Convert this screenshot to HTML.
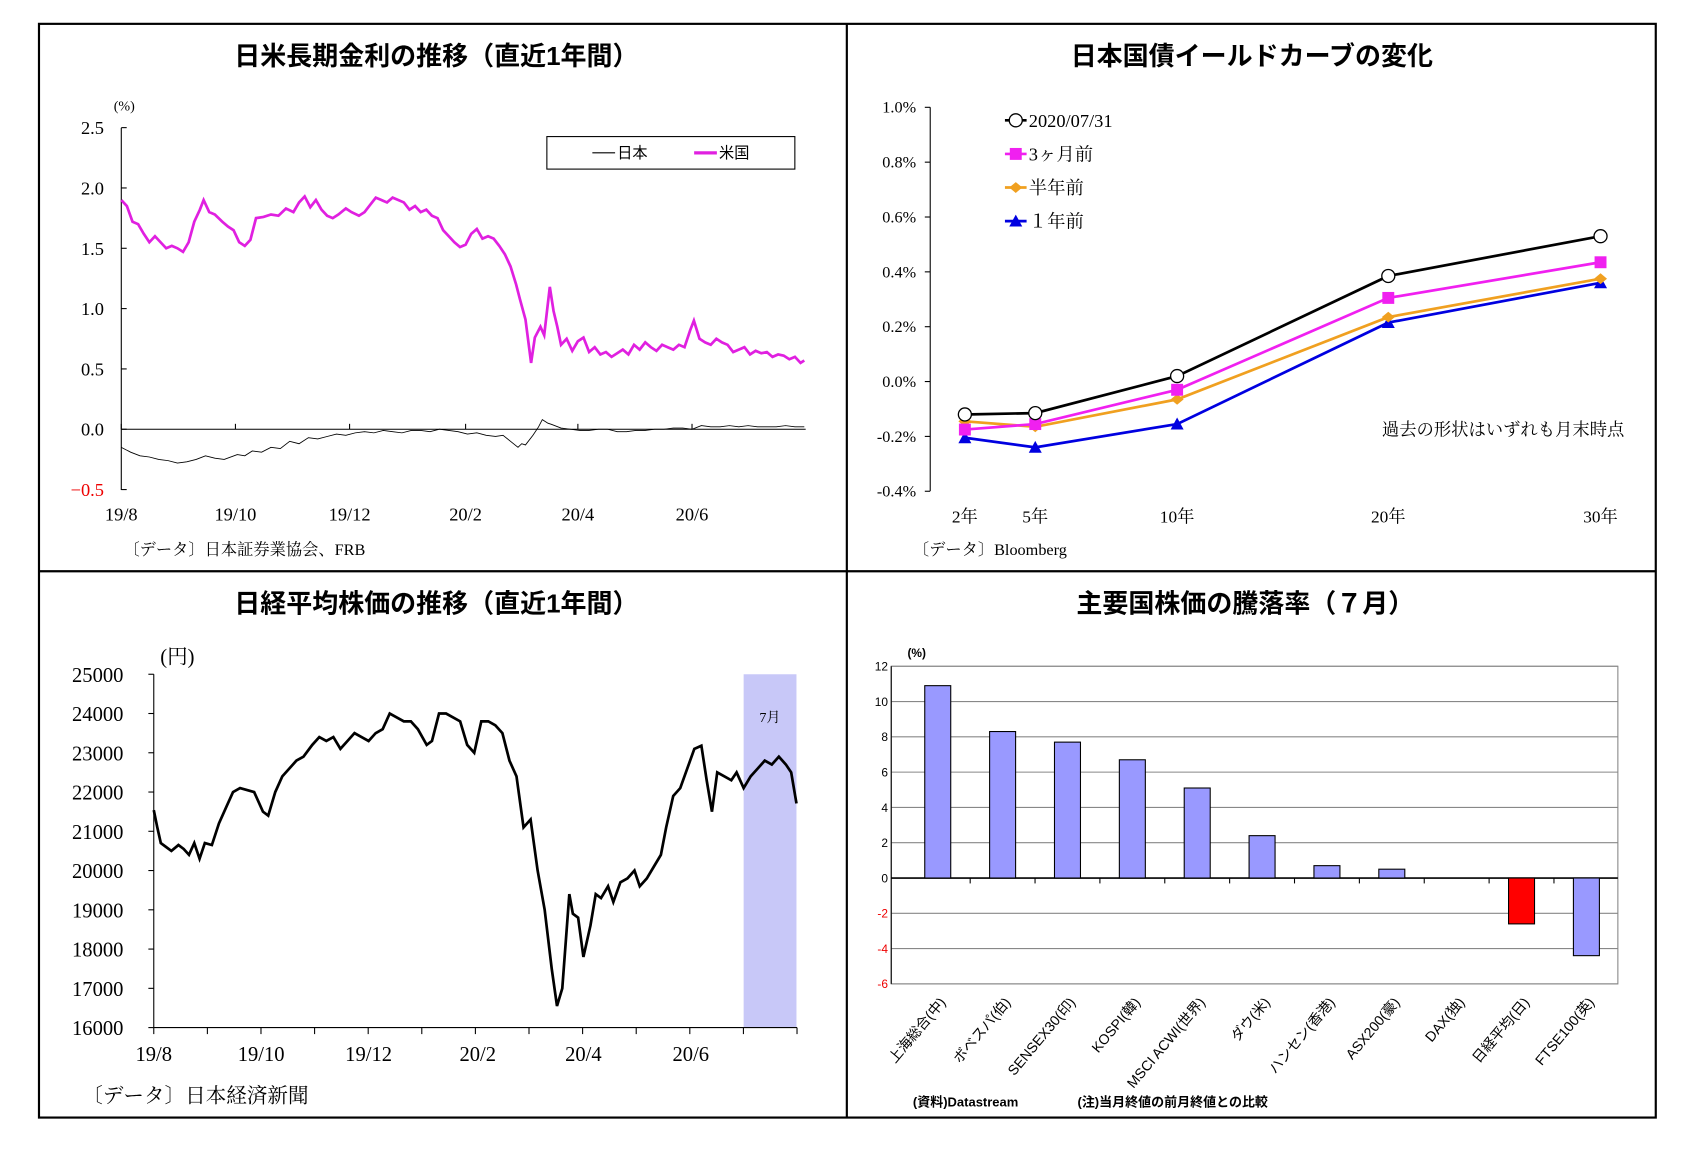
<!DOCTYPE html>
<html><head><meta charset="utf-8">
<style>
html,body{margin:0;padding:0;background:#fff;overflow:hidden}
svg{display:block}
text{font-family:"Liberation Serif","Noto Serif CJK SC",serif}
.t{font-family:"Liberation Sans","Noto Sans CJK JP",sans-serif;font-weight:bold;font-size:24px}
.s{font-family:"Liberation Sans","Noto Sans CJK JP",sans-serif}
</style></head>
<body>
<svg id="c" width="1698" height="1149" viewBox="0 0 1568 1060" preserveAspectRatio="none" xmlns="http://www.w3.org/2000/svg">
<rect x="36" y="22" width="1493" height="1009" fill="none" stroke="#000" stroke-width="2"/>
<line x1="782" y1="22" x2="782" y2="1031" stroke="#000" stroke-width="2"/>
<line x1="36" y1="527" x2="1529" y2="527" stroke="#000" stroke-width="2"/>
<g id="p1"></g>
<g id="p2"></g>
<g id="p3"></g>
<g id="p4"></g>
</svg>
<script>
// ---- Panel 1 data ----
const rateTicks=[2.5,2.0,1.5,1.0,0.5,0.0,-0.5];
const rateTickLabels=["2.5","2.0","1.5","1.0","0.5","0.0","\u22120.5"];
const monthLabels=["19/8","19/10","19/12","20/2","20/4","20/6"];
const monthDays=[0,61,122,184,244,305];
const usDays=[0,3,6,9,12,15,18,21,24,27,30,33,36,39,42,44,47,50,54,57,60,63,66,69,72,76,80,84,88,92,95,98,101,104,107,110,113,116,120,123,127,130,133,136,139,142,145,148,151,154,157,160,163,166,169,172,175,178,181,184,187,190,193,196,199,202,205,208,211,213,216,219,221,224,226,229,231,233,235,238,241,244,247,250,253,256,259,262,265,268,271,274,277,280,283,286,289,292,295,298,301,304,306,309,312,315,318,321,324,327,330,333,336,339,342,345,348,351,354,357,360,363,365];
const usVals=[1.90,1.85,1.72,1.70,1.62,1.55,1.60,1.55,1.50,1.52,1.50,1.47,1.55,1.72,1.82,1.90,1.80,1.78,1.72,1.68,1.65,1.55,1.52,1.57,1.75,1.76,1.78,1.77,1.83,1.80,1.88,1.93,1.84,1.90,1.82,1.77,1.75,1.78,1.83,1.80,1.77,1.80,1.86,1.92,1.90,1.88,1.92,1.90,1.88,1.82,1.85,1.80,1.82,1.77,1.75,1.65,1.60,1.55,1.51,1.53,1.62,1.66,1.58,1.60,1.58,1.52,1.45,1.35,1.20,1.08,0.91,0.55,0.76,0.85,0.78,1.18,0.98,0.85,0.70,0.75,0.65,0.73,0.76,0.64,0.68,0.62,0.64,0.60,0.63,0.66,0.62,0.70,0.66,0.72,0.68,0.65,0.70,0.68,0.66,0.70,0.68,0.82,0.90,0.75,0.72,0.70,0.75,0.72,0.70,0.64,0.66,0.68,0.62,0.65,0.63,0.64,0.60,0.62,0.61,0.58,0.60,0.55,0.57];
const jpDays=[0,5,10,15,20,25,30,35,40,45,50,55,62,66,70,75,80,85,90,95,100,105,110,115,120,125,130,135,140,145,150,155,160,165,170,175,180,185,190,195,200,204,208,212,214,216,220,223,225,228,230,235,240,245,250,255,260,265,270,275,280,285,290,295,300,305,310,315,320,325,330,335,340,345,350,355,360,365];
const jpVals=[-0.15,-0.19,-0.22,-0.23,-0.25,-0.26,-0.28,-0.27,-0.25,-0.22,-0.24,-0.25,-0.21,-0.22,-0.18,-0.19,-0.15,-0.16,-0.10,-0.12,-0.07,-0.08,-0.06,-0.04,-0.05,-0.03,-0.02,-0.03,-0.01,-0.02,-0.03,-0.01,-0.01,-0.02,0.00,-0.01,-0.02,-0.04,-0.03,-0.05,-0.06,-0.05,-0.10,-0.15,-0.12,-0.13,-0.05,0.02,0.08,0.05,0.04,0.01,0.00,-0.01,-0.01,0.00,0.00,-0.02,-0.02,-0.01,-0.01,0.00,0.00,0.01,0.01,0.00,0.03,0.02,0.02,0.03,0.02,0.03,0.02,0.02,0.02,0.03,0.02,0.02];
// ---- Panel 2 data ----
const maturities=["2年","5年","10年","20年","30年"];
const curveNow=[-0.12,-0.115,0.02,0.385,0.53];
const curve3m=[-0.175,-0.155,-0.03,0.305,0.435];
const curve6m=[-0.145,-0.165,-0.065,0.235,0.375];
const curve1y=[-0.205,-0.24,-0.155,0.215,0.36];
const curveTicks=[1.0,0.8,0.6,0.4,0.2,0.0,-0.2,-0.4];
const curveTickLabels=["1.0%","0.8%","0.6%","0.4%","0.2%","0.0%","-0.2%","-0.4%"];
const curveLegend=["2020/07/31","3ヶ月前","半年前","１年前"];
// ---- Panel 3 data ----
const nkTicks=[25000,24000,23000,22000,21000,20000,19000,18000,17000,16000];
const nkDays=[0,2,4,7,10,14,17,20,23,26,29,33,37,41,45,49,53,57,62,65,69,73,77,81,85,90,94,98,102,106,110,114,118,122,126,130,134,138,142,146,150,155,158,162,166,170,174,178,182,186,190,194,198,202,206,210,214,218,222,226,229,232,236,238,241,244,248,251,254,258,261,265,269,273,276,280,284,288,291,295,299,303,307,311,314,317,320,324,328,331,335,339,343,347,351,355,359,362,365];
const nkVals=[21540,21100,20700,20600,20500,20650,20550,20400,20700,20300,20700,20650,21200,21600,22000,22100,22050,22000,21500,21400,22000,22400,22600,22800,22900,23200,23400,23300,23400,23100,23300,23500,23400,23300,23500,23600,24000,23900,23800,23800,23600,23200,23300,24000,24000,23900,23800,23200,23000,23800,23800,23700,23500,22800,22400,21100,21300,20000,19000,17500,16550,17000,19400,18900,18800,17800,18600,19400,19300,19600,19200,19700,19800,20000,19600,19800,20100,20400,21100,21900,22100,22600,23100,23180,22300,21500,22500,22400,22300,22500,22100,22400,22600,22800,22700,22900,22700,22500,21710];
// ---- Panel 4 data ----
const markets=["上海総合(中)","ボベスパ(伯)","SENSEX30(印)","KOSPI(韓)","MSCI ACWI(世界)","ダウ(米)","ハンセン(香港)","ASX200(豪)","DAX(独)","日経平均(日)","FTSE100(英)"];
const returns=[10.9,8.3,7.7,6.7,5.1,2.4,0.7,0.5,0.0,-2.6,-4.4];
const retTicks=[12,10,8,6,4,2,0,-2,-4,-6];

const NS="http://www.w3.org/2000/svg";
function mk(parent,tag,attrs,txt){const e=document.createElementNS(NS,tag);for(const k in attrs)e.setAttribute(k,attrs[k]);if(txt!==undefined)e.textContent=txt;parent.appendChild(e);return e;}

// ===== Panel 1 =====
(function(){
const g=document.getElementById('p1');
const X=d=>112+d*1.728, Y=v=>396-v*111.3;
let e;
e=mk(g,'text',{x:403,y:60,'text-anchor':'middle',class:'t'},'日米長期金利の推移（直近1年間）');


e=mk(g,'text',{x:105,y:102,'font-size':13},'(%)');


mk(g,'line',{x1:112,y1:118,x2:112,y2:452,stroke:'#000'});
mk(g,'line',{x1:112,y1:396,x2:744,y2:396,stroke:'#000'});
rateTicks.forEach((v,i)=>{
 mk(g,'line',{x1:112,y1:Y(v),x2:117,y2:Y(v),stroke:'#000'});
 const t=mk(g,'text',{x:96,y:Y(v)+6,'text-anchor':'end','font-size':17,fill:v<0?'#e00':'#000'},rateTickLabels[i]);
 
 
});
monthLabels.forEach((m,i)=>{
 mk(g,'line',{x1:X(monthDays[i]),y1:396,x2:X(monthDays[i]),y2:391,stroke:'#000'});
 const t=mk(g,'text',{x:X(monthDays[i]),y:480,'text-anchor':'middle','font-size':17},m);
 
 
});
e=mk(g,'polyline',{points:jpDays.map((d,i)=>X(d)+','+Y(jpVals[i])).join(' '),fill:'none',stroke:'#000','stroke-width':0.8});


e=mk(g,'polyline',{points:usDays.map((d,i)=>X(d)+','+Y(usVals[i])).join(' '),fill:'none',stroke:'#e020e0','stroke-width':2.5});


const lg=mk(g,'g',{});


mk(lg,'rect',{x:505,y:126,width:229,height:30,fill:'#fff',stroke:'#000'});
mk(lg,'line',{x1:547,y1:141,x2:568,y2:141,stroke:'#000'});
mk(lg,'text',{x:570,y:146,'font-size':14,class:'s'},'日本');
mk(lg,'line',{x1:641,y1:141,x2:662,y2:141,stroke:'#e020e0','stroke-width':3});
mk(lg,'text',{x:664,y:146,'font-size':14,class:'s'},'米国');
e=mk(g,'text',{x:114,y:512,'font-size':15},'〔データ〕日本証券業協会、FRB');


})();

// ===== Panel 2 =====
(function(){
const g=document.getElementById('p2');
const xPos=[891,956,1087,1282,1478];
const Y=v=>352-v*253;
let e;
e=mk(g,'text',{x:1156,y:60,'text-anchor':'middle',class:'t'},'日本国債イールドカーブの変化');


mk(g,'line',{x1:859,y1:99,x2:859,y2:453,stroke:'#000'});
curveTicks.forEach((v,i)=>{
 mk(g,'line',{x1:854,y1:Y(v),x2:859,y2:Y(v),stroke:'#000'});
 const t=mk(g,'text',{x:846,y:Y(v)+5,'text-anchor':'end','font-size':15},curveTickLabels[i]);
 
 
});
maturities.forEach((m,i)=>{
 const t=mk(g,'text',{x:xPos[i],y:482,'text-anchor':'middle','font-size':16},m);
 
 
});
const series=[[curve1y,'#0000e0','tri'],[curve6m,'#f0a020','dia'],[curve3m,'#f020f0','sq'],[curveNow,'#000','circ']];
function marker(p,x,y,type,col){
 if(type=='circ')return mk(p,'circle',{cx:x,cy:y,r:6,fill:'#fff',stroke:'#000','stroke-width':1.2});
 if(type=='sq')return mk(p,'rect',{x:x-5.5,y:y-5.5,width:11,height:11,fill:col});
 if(type=='dia')return mk(p,'polygon',{points:`${x},${y-5} ${x+6},${y} ${x},${y+5} ${x-6},${y}`,fill:col});
 return mk(p,'polygon',{points:`${x},${y-6} ${x+6},${y+5} ${x-6},${y+5}`,fill:col});
}
series.forEach(([vals,col,type])=>{
 const sg=mk(g,'g',{});
 
 
 mk(sg,'polyline',{points:vals.map((v,i)=>xPos[i]+','+Y(v)).join(' '),fill:'none',stroke:col,'stroke-width':2.5});
 vals.forEach((v,i)=>{const m=marker(sg,xPos[i],Y(v),type,col);
  
  });
});
const leg=[['#000','circ'],['#f020f0','sq'],['#f0a020','dia'],['#0000e0','tri']];
curveLegend.forEach((l,i)=>{
 const y=111+i*31;
 const lgi=mk(g,'g',{});
 
 
 mk(lgi,'line',{x1:928,y1:y,x2:948,y2:y,stroke:leg[i][0],'stroke-width':2.5});
 marker(lgi,938,y,leg[i][1],leg[i][0]);
 mk(lgi,'text',{x:950,y:y+6,'font-size':17},l);
});
e=mk(g,'text',{x:1500,y:402,'text-anchor':'end','font-size':16},'過去の形状はいずれも月末時点');


e=mk(g,'text',{x:843,y:512,'font-size':15},'〔データ〕Bloomberg');


})();

// ===== Panel 3 =====
(function(){
const g=document.getElementById('p3');
const X=d=>142+d*1.626, Y=v=>948-(v-16000)*0.03622;
let e;
e=mk(g,'text',{x:403,y:565,'text-anchor':'middle',class:'t'},'日経平均株価の推移（直近1年間）');


e=mk(g,'rect',{x:X(335),y:Y(25000),width:X(365)-X(335),height:Y(16000)-Y(25000),fill:'#c8c8f8'});


e=mk(g,'text',{x:711,y:666,'text-anchor':'middle','font-size':13},'7月');


e=mk(g,'text',{x:148,y:612,'font-size':19},'(円)');


mk(g,'line',{x1:142,y1:622,x2:142,y2:948,stroke:'#000'});
mk(g,'line',{x1:142,y1:948,x2:736,y2:948,stroke:'#000'});
nkTicks.forEach(v=>{
 mk(g,'line',{x1:137,y1:Y(v),x2:142,y2:Y(v),stroke:'#000'});
 const t=mk(g,'text',{x:114,y:Y(v)+7,'text-anchor':'end','font-size':19},String(v));
 
 
});
for(let d=0;d<=12;d++){const x=142+d*(736-142)/12;mk(g,'line',{x1:x,y1:948,x2:x,y2:954,stroke:'#000'});}
monthLabels.forEach((m,i)=>{
 const t=mk(g,'text',{x:X(monthDays[i]),y:979,'text-anchor':'middle','font-size':19},m);
 
 
});
e=mk(g,'polyline',{points:nkDays.map((d,i)=>X(d)+','+Y(nkVals[i])).join(' '),fill:'none',stroke:'#000','stroke-width':2.5});


e=mk(g,'text',{x:76,y:1017,'font-size':19},'〔データ〕日本経済新聞');


})();

// ===== Panel 4 =====
(function(){
const g=document.getElementById('p4');
const x0=823,x1=1494,bandStart=836,bw=59.9;
const Y=v=>810-v*16.28;
let e;
e=mk(g,'text',{x:1150,y:565,'text-anchor':'middle',class:'t'},'主要国株価の騰落率（７月）');


e=mk(g,'text',{x:838,y:606,'font-size':11,class:'s','font-weight':'bold'},'(%)');


mk(g,'rect',{x:x0,y:Y(12),width:x1-x0,height:Y(-6)-Y(12),fill:'#fff',stroke:'#888'});
retTicks.forEach(v=>{
 mk(g,'line',{x1:x0,y1:Y(v),x2:x1,y2:Y(v),stroke:v==0?'#000':'#888','stroke-width':v==0?1.5:1});
 const t=mk(g,'text',{x:x0-3,y:Y(v)+4,'text-anchor':'end','font-size':11,class:'s',fill:v<0?'#e00':'#000'},String(v));
 
 
});
mk(g,'line',{x1:x0,y1:Y(12),x2:x0,y2:Y(-6),stroke:'#000'});
for(let i=1;i<markets.length;i++){mk(g,'line',{x1:bandStart+i*bw,y1:810,x2:bandStart+i*bw,y2:815,stroke:'#000'});}
markets.forEach((m,i)=>{
 const cx=bandStart+bw*(i+0.5),v=returns[i];
 const b=mk(g,'rect',{x:cx-12,y:Math.min(Y(v),Y(0)),width:24,height:Math.abs(Y(v)-Y(0)),fill:i==9?'#f00':'#9999ff',stroke:'#000','stroke-width':1});
 
 
 const t=mk(g,'text',{x:cx+8,y:925,'text-anchor':'end','font-size':13,class:'s',transform:`rotate(-50 ${cx+8} 925)`},m);
 
 
});
e=mk(g,'text',{x:843,y:1021,'font-size':12,class:'s','font-weight':'bold'},'(資料)Datastream');


e=mk(g,'text',{x:995,y:1021,'font-size':12,class:'s','font-weight':'bold'},'(注)当月終値の前月終値との比較');


})();
</script>
</body></html>
